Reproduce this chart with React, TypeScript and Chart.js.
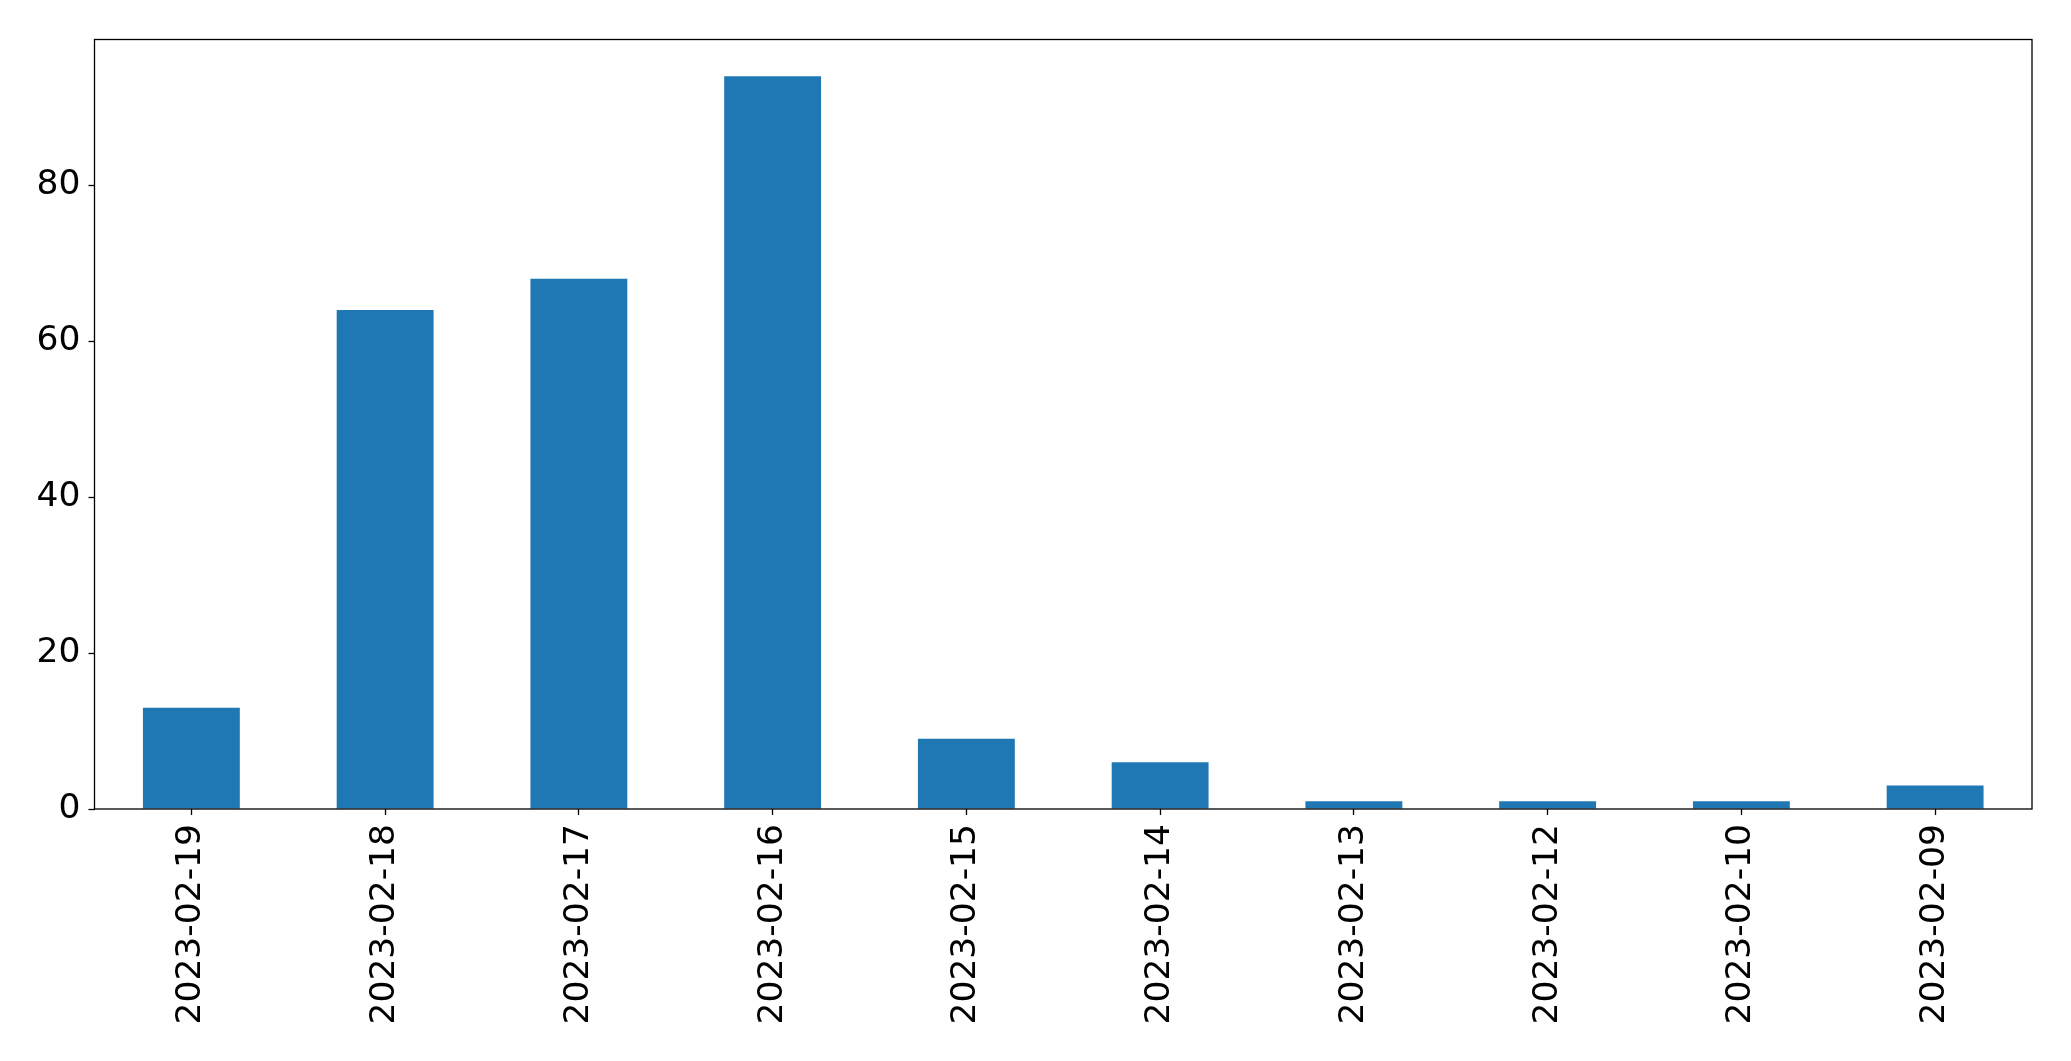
import React, { useEffect, useRef } from "react";
import { Chart, registerables } from "chart.js";

Chart.register(...registerables);

const categories = [
  "2023-02-19",
  "2023-02-18",
  "2023-02-17",
  "2023-02-16",
  "2023-02-15",
  "2023-02-14",
  "2023-02-13",
  "2023-02-12",
  "2023-02-10",
  "2023-02-09",
];
const counts = [13, 64, 68, 94, 9, 6, 1, 1, 1, 3];
const yTicks = [0, 20, 40, 60, 80];

const W = 2071;
const H = 1061;

const frame = {
  id: "frame",
  afterDraw(chart: any) {
    const { ctx, chartArea } = chart;
    ctx.save();
    ctx.strokeStyle = "#000";
    ctx.lineWidth = 1.3;
    ctx.strokeRect(chartArea.left, chartArea.top, chartArea.right - chartArea.left, chartArea.bottom - chartArea.top);
    ctx.restore();
  },
};

export default function App() {
  const ref = useRef<HTMLCanvasElement | null>(null);
  useEffect(() => {
    document.body.style.margin = "0";
    const font = { family: "'DejaVu Sans', sans-serif", size: 34.5 };
    const maxV = Math.max(...counts) * 1.05;
    const chart = new Chart(ref.current as HTMLCanvasElement, {
      type: "bar",
      data: {
        labels: categories,
        datasets: [
          {
            data: counts,
            backgroundColor: "#1f77b4",
            barPercentage: 0.5,
            categoryPercentage: 1,
          },
        ],
      },
      plugins: [frame],
      options: {
        animation: false,
        responsive: false,
        devicePixelRatio: 1,
        layout: { padding: { top: 39.5, right: 39, left: 0, bottom: 0 } },
        plugins: { legend: { display: false }, tooltip: { enabled: false } },
        scales: {
          x: {
            offset: true,
            grid: { display: true, offset: false, drawOnChartArea: false, tickLength: 6, tickColor: "#000", tickWidth: 1.3 },
            border: { display: false },
            ticks: { color: "#000", font, minRotation: 90, maxRotation: 90, padding: 9, autoSkip: false },
            afterFit(scale: any) {
              scale.height = H - 809;
            },
          },
          y: {
            min: 0,
            max: maxV,
            grid: { display: true, drawOnChartArea: false, tickLength: 6, tickColor: "#000", tickWidth: 1.3 },
            border: { display: false },
            ticks: { color: "#000", font, stepSize: 20, padding: 8 },
            afterBuildTicks(scale: any) {
              scale.ticks = yTicks.map((v) => ({ value: v }));
            },
            afterFit(scale: any) {
              scale.width = 94.5;
            },
          },
        },
      },
    } as any);
    return () => chart.destroy();
  }, []);
  return (
    <div style={{ width: W, height: H }}>
      <canvas ref={ref} width={W} height={H} style={{ display: "block" }} />
    </div>
  );
}
